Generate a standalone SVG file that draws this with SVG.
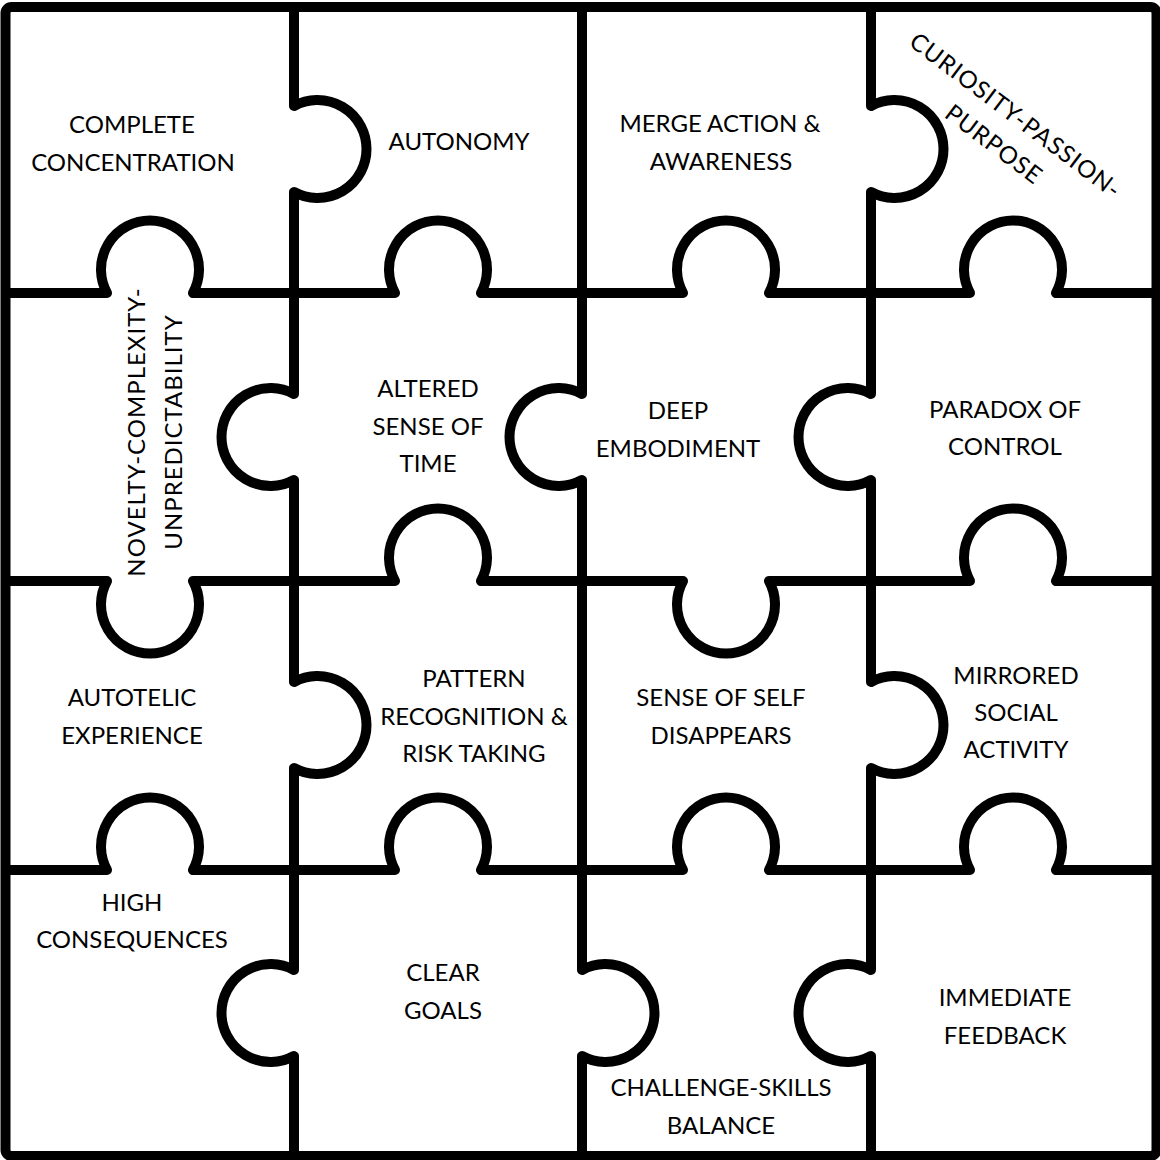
<svg xmlns="http://www.w3.org/2000/svg" width="1160" height="1160" viewBox="0 0 1160 1160">
<style>
.ln{fill:none;stroke:#000;stroke-width:10;stroke-linejoin:round;stroke-linecap:butt}
text{font-family:Lato,"Liberation Sans",sans-serif;font-size:24px;font-weight:400;fill:#000;text-anchor:middle}
.sp{letter-spacing:1px}
</style>
<rect width="1160" height="1160" fill="#fff"/>
<g id="grid">
<rect class="ln" x="5.5" y="7" width="1151" height="1149" rx="6"/>
<path class="ln" d="M5 293 H107 A49 49 0 1 1 193 293 H395 A49 49 0 1 1 481 293 H683 A49 49 0 1 1 769 293 H970 A49 49 0 1 1 1056 293 H1156"/>
<path class="ln" d="M5 581 H107 A49 49 0 1 0 193 581 H395 A49 49 0 1 1 481 581 H683 A49 49 0 1 0 769 581 H970 A49 49 0 1 1 1056 581 H1156"/>
<path class="ln" d="M5 870 H107 A49 49 0 1 1 193 870 H395 A49 49 0 1 1 481 870 H683 A49 49 0 1 1 769 870 H970 A49 49 0 1 1 1056 870 H1156"/>
<path class="ln" d="M294 7 V106 A49 49 0 1 1 294 192 V394 A49 49 0 1 0 294 480 V682 A49 49 0 1 1 294 768 V970 A49 49 0 1 0 294 1056 V1156"/>
<path class="ln" d="M582 7 V394 A49 49 0 1 0 582 480 V970 A49 49 0 1 1 582 1056 V1156"/>
<path class="ln" d="M871 7 V106 A49 49 0 1 1 871 192 V394 A49 49 0 1 0 871 480 V682 A49 49 0 1 1 871 768 V970 A49 49 0 1 0 871 1056 V1156"/>
</g>
<g id="complete-concentration"><text x="132" y="133">COMPLETE</text><text x="133" y="171">CONCENTRATION</text></g>
<g id="autonomy"><text x="459" y="150">AUTONOMY</text></g>
<g id="merge-action"><text x="720" y="132">MERGE ACTION &amp;</text><text x="721" y="170">AWARENESS</text></g>
<g id="curiosity"><text class="sp" transform="translate(1016,115) rotate(37)"><tspan x="0" y="9">CURIOSITY-PASSION-</tspan><tspan x="0" y="45">PURPOSE</tspan></text></g>
<g id="novelty"><text class="sp" transform="translate(145,432) rotate(-90)"><tspan x="0" y="0">NOVELTY-COMPLEXITY-</tspan><tspan x="0" y="37">UNPREDICTABILITY</tspan></text></g>
<g id="altered-time"><text x="428" y="397">ALTERED</text><text x="428" y="435">SENSE OF</text><text x="428" y="472">TIME</text></g>
<g id="deep-embodiment"><text x="678" y="419">DEEP</text><text x="678" y="457">EMBODIMENT</text></g>
<g id="paradox"><text x="1005" y="418">PARADOX OF</text><text x="1005" y="455">CONTROL</text></g>
<g id="autotelic"><text x="132" y="706">AUTOTELIC</text><text x="132" y="744">EXPERIENCE</text></g>
<g id="pattern"><text x="474" y="687">PATTERN</text><text x="474" y="725">RECOGNITION &amp;</text><text x="474" y="762">RISK TAKING</text></g>
<g id="sense-of-self"><text x="721" y="706">SENSE OF SELF</text><text x="721" y="744">DISAPPEARS</text></g>
<g id="mirrored"><text x="1016" y="684">MIRRORED</text><text x="1016" y="721">SOCIAL</text><text x="1016" y="758">ACTIVITY</text></g>
<g id="high-consequences"><text x="132" y="911">HIGH</text><text x="132" y="948">CONSEQUENCES</text></g>
<g id="clear-goals"><text x="443" y="981">CLEAR</text><text x="443" y="1019">GOALS</text></g>
<g id="immediate-feedback"><text x="1005" y="1006">IMMEDIATE</text><text x="1005" y="1044">FEEDBACK</text></g>
<g id="challenge"><text x="721" y="1096">CHALLENGE-SKILLS</text><text x="721" y="1134">BALANCE</text></g>
</svg>
